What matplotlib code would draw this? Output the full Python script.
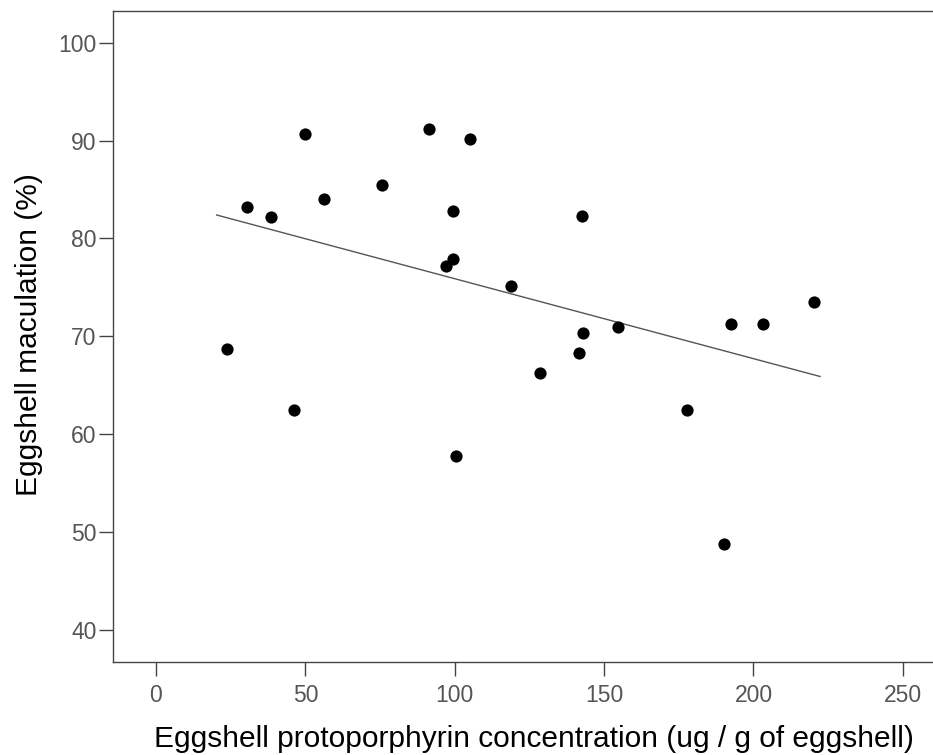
import matplotlib
matplotlib.use("Agg")
import matplotlib.pyplot as plt
import numpy as np

plt.rcParams['font.family'] = ['Liberation Sans', 'DejaVu Sans']

protoporphyrin = [49.9, 91.4, 105.1, 75.6, 56.2, 30.6, 38.6, 99.5, 99.5, 97.1,
                  118.9, 23.7, 128.6, 142.5, 142.8, 141.5, 154.8, 192.6, 203.3,
                  220.4, 177.7, 100.3, 46.3, 190.2]
maculation = [90.7, 91.2, 90.2, 85.5, 84.0, 83.2, 82.2, 82.8, 77.9, 77.2,
              75.1, 68.7, 66.3, 82.3, 70.3, 68.3, 71.0, 71.3, 71.3,
              73.5, 62.5, 57.8, 62.5, 48.8]
fit_x = [20.3, 222.3]
fit_y = [82.4, 65.9]

xticks = [0, 50, 100, 150, 200, 250]
yticks = [40, 50, 60, 70, 80, 90, 100]

fig = plt.figure(figsize=(9.33, 7.55), dpi=100)
ax = fig.add_axes([0.1214, 0.1232, 1.0 - 0.1214, 0.8626])

ax.plot(fit_x, fit_y, color='#555555', lw=1.0)
ax.plot(protoporphyrin, maculation, 'o', color='black', markersize=8.8,
        markeredgewidth=0)

ax.set_xlim(-14.3, 260.1)
ax.set_ylim(36.73, 103.27)
ax.set_xticks(xticks)
ax.set_yticks(yticks)

for s in ['left', 'bottom', 'top']:
    ax.spines[s].set_color('#444444')
    ax.spines[s].set_linewidth(1.0)
ax.spines['right'].set_visible(False)

ax.tick_params(axis='both', direction='out', length=10, width=1.0,
               color='#444444', labelcolor='#555555', labelsize=16.5)
ax.tick_params(axis='x', pad=6)
ax.tick_params(axis='y', pad=2)

ax.set_xlabel('Eggshell protoporphyrin concentration (ug / g of eggshell)',
              fontsize=21.5, color='black')
ax.set_ylabel('Eggshell maculation (%)', fontsize=21.5, color='black')
ax.xaxis.set_label_coords(0.513, -0.097)
ax.yaxis.set_label_coords(-0.086, 0.502)

fig.savefig('out.png', dpi=100)
